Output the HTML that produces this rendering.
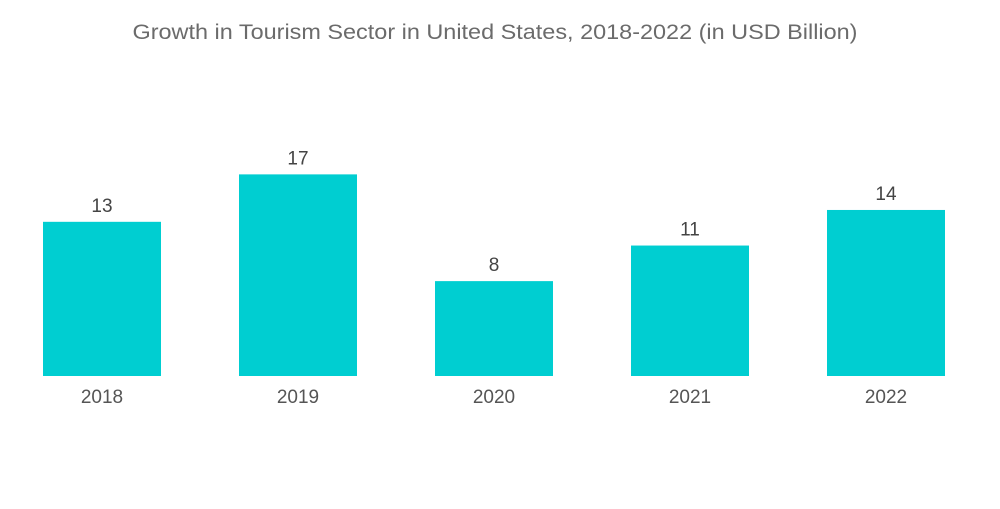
<!DOCTYPE html>
<html><head><meta charset="utf-8">
<style>
html,body{margin:0;padding:0;background:#fff;}
body{width:1000px;height:504px;overflow:hidden;font-family:"Liberation Sans",sans-serif;}
</style></head>
<body>
<svg id="chart" width="1000" height="504" xmlns="http://www.w3.org/2000/svg">
<text x="495" y="39" text-anchor="middle" font-size="21" fill="#6b6b6b" textLength="725" lengthAdjust="spacingAndGlyphs" font-family="Liberation Sans, sans-serif">Growth in Tourism Sector in United States, 2018-2022 (in USD Billion)</text>
<g id="bars"></g>
</svg>
<script>
const categories = ["2018","2019","2020","2021","2022"];
const values = [13,17,8,11,14];
const valueLabels = ["13","17","8","11","14"];

const baseline = 376, pxPerUnit = 11.86;
const firstX = 43, step = 196, barW = 118;
function xPos(i){return firstX + i*step;}
function yPos(v){return baseline - v*pxPerUnit;}
const ns="http://www.w3.org/2000/svg";
const g=document.getElementById('bars');
categories.forEach((c,i)=>{
  const v=values[i];
  const r=document.createElementNS(ns,'rect');
  r.setAttribute('x',xPos(i));r.setAttribute('y',yPos(v));
  r.setAttribute('width',barW);r.setAttribute('height',baseline-yPos(v));
  r.setAttribute('fill','#00ced1');
  
  
  g.appendChild(r);
  const t=document.createElementNS(ns,'text');
  t.setAttribute('x',xPos(i)+barW/2);t.setAttribute('y',yPos(v)-10);
  t.setAttribute('text-anchor','middle');t.setAttribute('font-size','19');t.setAttribute('fill','#444');
  t.textContent=valueLabels[i];
  
  
  g.appendChild(t);
  const x=document.createElementNS(ns,'text');
  x.setAttribute('x',xPos(i)+barW/2);x.setAttribute('y',403);
  x.setAttribute('text-anchor','middle');x.setAttribute('font-size','19');x.setAttribute('fill','#555');
  x.textContent=c;
  
  
  g.appendChild(x);
});
</script>
</body></html>
